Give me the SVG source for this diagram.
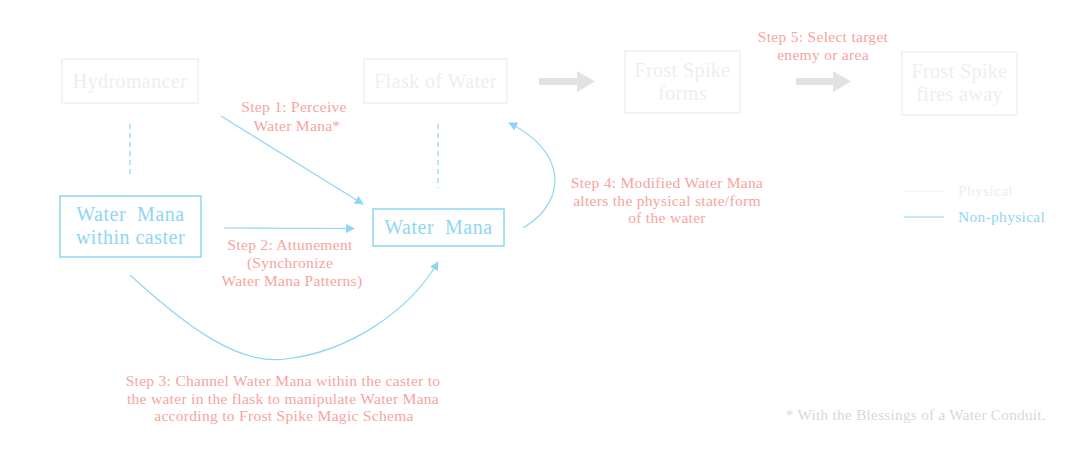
<svg xmlns="http://www.w3.org/2000/svg" width="1070" height="456" viewBox="0 0 1070 456">
<defs>
<style>
text{font-family:"Liberation Serif","DejaVu Serif",serif;text-anchor:middle}
.pbox{fill:none;stroke:#f0f0f0;stroke-width:1.5}
.ptxt{fill:#eeeeee;font-size:20px;letter-spacing:0.4px}
.nbox{fill:none;stroke:#8fd6f3;stroke-width:1.5}
.ntxt{fill:#8fd6f3;font-size:20px;letter-spacing:0.5px}
.lbl{fill:#f7a49e;font-size:15.5px;letter-spacing:0.3px}
.conn{fill:none;stroke:#8fd6f3;stroke-width:1.2}
.dash{fill:none;stroke:#8fd6f3;stroke-width:1.2;stroke-dasharray:5 4}
.garrow{fill:#e2e2e2}
</style>
<marker id="ah" viewBox="0 0 10 10" refX="9" refY="5" markerWidth="9" markerHeight="9" markerUnits="userSpaceOnUse" orient="auto">
<path d="M0,0 L10,5 L0,10 Z" fill="#8fd6f3"/>
</marker>
</defs>
<rect width="1070" height="456" fill="#ffffff"/>

<g id="hydromancer">
<rect class="pbox" x="62" y="59" width="136" height="44"/>
<text class="ptxt" x="130" y="88">Hydromancer</text>
</g>
<g id="flask">
<rect class="pbox" x="364" y="59" width="143" height="44"/>
<text class="ptxt" x="435.5" y="88">Flask of Water</text>
</g>
<g id="frost-forms">
<rect class="pbox" x="625" y="51" width="115" height="62"/>
<text class="ptxt" x="682.5" y="77">Frost Spike</text>
<text class="ptxt" x="682.5" y="100">forms</text>
</g>
<g id="frost-fires">
<rect class="pbox" x="902" y="52" width="115" height="63"/>
<text class="ptxt" x="959.5" y="78">Frost Spike</text>
<text class="ptxt" x="959.5" y="101">fires away</text>
</g>
<g id="mana-caster">
<rect class="nbox" x="60" y="196" width="141" height="61"/>
<text class="ntxt" x="130.5" y="221" xml:space="preserve">Water  Mana</text>
<text class="ntxt" x="130.5" y="244">within caster</text>
</g>
<g id="water-mana">
<rect class="nbox" x="373" y="209" width="131" height="37"/>
<text class="ntxt" x="438.5" y="234" xml:space="preserve">Water  Mana</text>
</g>

<g id="connectors">
<line class="dash" x1="130" y1="124" x2="130" y2="176"/>
<line class="dash" x1="438" y1="124" x2="438" y2="188"/>
<line class="conn" x1="221" y1="116" x2="363" y2="204" marker-end="url(#ah)"/>
<line class="conn" x1="224" y1="228" x2="354" y2="228.5" marker-end="url(#ah)"/>
<path class="conn" d="M130,275 C190,330 240,365 285,359 C350,352 410,310 438,262" marker-end="url(#ah)"/>
<path class="conn" d="M523,228 C570,200 565,150 509,123" marker-end="url(#ah)"/>
<polygon class="garrow" points="539,78 577,78 577,71 595,81.5 577,92 577,85 539,85"/>
<polygon class="garrow" points="796,78 833,78 833,71 851,81.5 833,92 833,85 796,85"/>
</g>

<g id="labels">
<text class="lbl" x="294" y="112">Step 1: Perceive</text>
<text class="lbl" x="297" y="131">Water Mana*</text>
<text class="lbl" x="290" y="250">Step 2: Attunement</text>
<text class="lbl" x="290" y="268">(Synchronize</text>
<text class="lbl" x="292" y="286">Water Mana Patterns)</text>
<text class="lbl" x="283" y="386">Step 3: Channel Water Mana within the caster to</text>
<text class="lbl" x="283" y="404">the water in the flask to manipulate Water Mana</text>
<text class="lbl" x="284" y="421">according to Frost Spike Magic Schema</text>
<text class="lbl" x="667" y="188">Step 4: Modified Water Mana</text>
<text class="lbl" x="667" y="206">alters the physical state/form</text>
<text class="lbl" x="667" y="223">of the water</text>
<text class="lbl" x="823" y="42">Step 5: Select target</text>
<text class="lbl" x="823" y="60">enemy or area</text>
</g>

<g id="legend">
<line x1="904" y1="191" x2="944" y2="191" stroke="#f0f0f0" stroke-width="1.2"/>
<text x="958" y="196" style="text-anchor:start;font-size:15.5px;letter-spacing:0.3px;fill:#eeeeee">Physical</text>
<line x1="904" y1="217" x2="944" y2="217" stroke="#8fd6f3" stroke-width="1.2"/>
<text x="958" y="222" style="text-anchor:start;font-size:15.5px;letter-spacing:0.3px;fill:#8fd6f3">Non-physical</text>
</g>
<text x="1046" y="420" style="text-anchor:end;font-size:15.2px;letter-spacing:0.3px;fill:#d8d8d8">* With the Blessings of a Water Conduit.</text>
</svg>
